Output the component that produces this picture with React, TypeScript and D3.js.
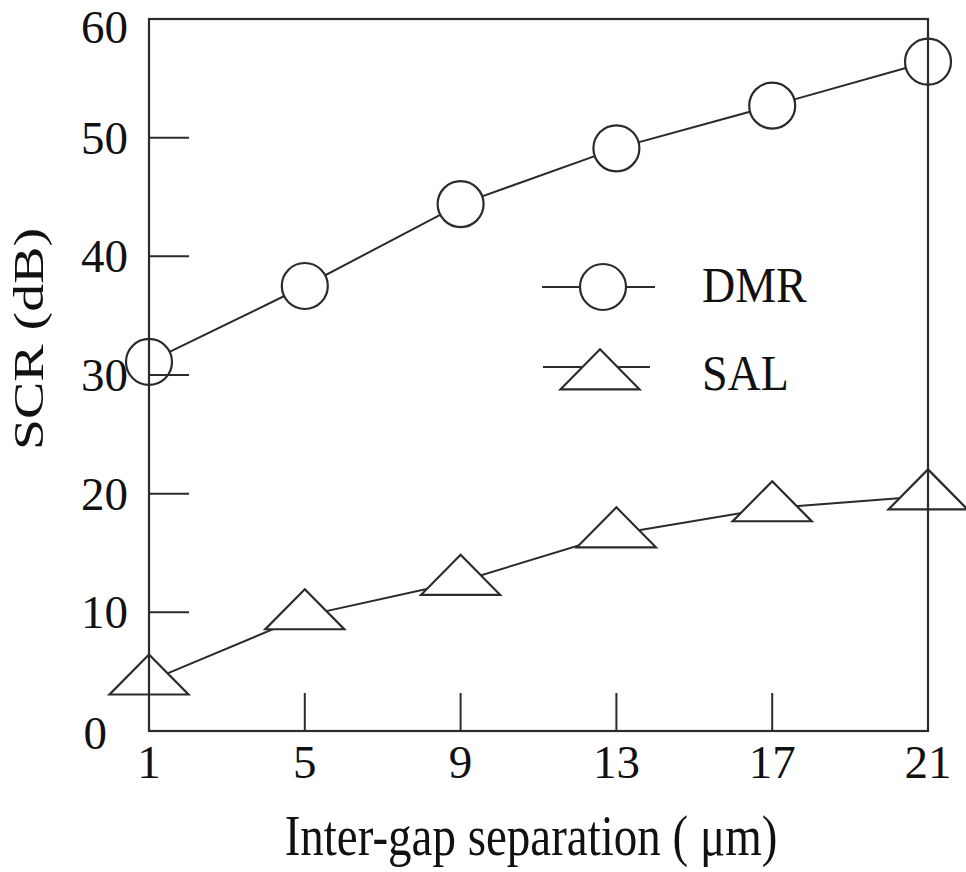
import React from "react";
import * as d3 from "d3";

const xValues = [1, 5, 9, 13, 17, 21];
const dmrValues = [31.1, 37.5, 44.4, 49.1, 52.7, 56.4];
const salValues = [4.2, 9.7, 12.6, 16.6, 18.8, 19.8];
const yTicks = [0, 10, 20, 30, 40, 50, 60];
const xTicks = [1, 5, 9, 13, 17, 21];
const seriesNames = ["DMR", "SAL"];
const xLabel = "Inter-gap separation ( \u03bcm)";
const yLabel = "SCR (dB)";

const W = 966;
const H = 872;
const L = 149, R = 928, T = 19, B = 731;
const INK = "#2b2b2b";
const FONT = "'Liberation Serif', 'DejaVu Serif', serif";
const CR = 23; // circle radius
const TH = 40; // triangle height
const THW = 39.5; // triangle half width

function triPath(cx: number, cy: number) {
  const top = cy - (TH * 2) / 3;
  const bot = cy + TH / 3;
  return `M${cx},${top}L${cx + THW},${bot}L${cx - THW},${bot}Z`;
}

export default function App() {
  const x = d3.scaleLinear().domain([1, 21]).range([L, R]);
  const y = d3.scaleLinear().domain([0, 60]).range([B, T]);
  const line = d3
    .line<[number, number]>()
    .x((d) => x(d[0]))
    .y((d) => y(d[1]));
  const dmr: [number, number][] = xValues.map((v, i) => [v, dmrValues[i]]);
  const sal: [number, number][] = xValues.map((v, i) => [v, salValues[i]]);

  // legend geometry
  const legDmrY = 287, legSalY = 367, legCx = 600, legTriCy = 376;

  return (
    <svg
      width={W}
      height={H}
      style={{ position: "absolute", left: 0, top: 0, background: "#fff" }}
      fontFamily={FONT}
    >
      <rect x={0} y={0} width={W} height={H} fill="#fff" />
      <defs>
        <mask id="markerMask" maskUnits="userSpaceOnUse" x={0} y={0} width={W} height={H}>
          <rect x={0} y={0} width={W} height={H} fill="#fff" />
          {dmr.map((d, i) => (
            <circle key={"mc" + i} cx={x(d[0])} cy={y(d[1])} r={CR} fill="#000" />
          ))}
          {sal.map((d, i) => (
            <path key={"mt" + i} d={triPath(x(d[0]), y(d[1]))} fill="#000" />
          ))}
          <circle cx={legCx + 3} cy={legDmrY} r={CR} fill="#000" />
          <path d={triPath(legCx, legTriCy)} fill="#000" />
        </mask>
      </defs>

      {/* frame */}
      <rect x={L} y={T} width={R - L} height={B - T} fill="none" stroke={INK} strokeWidth={2.2} />
      {/* y ticks */}
      {yTicks.slice(1, -1).map((t) => (
        <line key={"yt" + t} x1={L} x2={L + 40} y1={y(t)} y2={y(t)} stroke={INK} strokeWidth={2} />
      ))}
      {/* x ticks */}
      {xTicks.slice(1, -1).map((t) => (
        <line key={"xt" + t} x1={x(t)} x2={x(t)} y1={B} y2={B - 38} stroke={INK} strokeWidth={2} />
      ))}
      {/* y tick labels */}
      {yTicks.map((t) => {
        const px = t === 0 ? 107 : 128;
        const py = t === 60 ? y(t) + 8 : t === 0 ? y(t) + 2 : y(t);
        return (
          <text
            key={"yl" + t}
            x={px}
            y={py + 16}
            textAnchor="end"
            fontSize={47}
            fill="#111"
          >
            {t}
          </text>
        );
      })}
      {/* x tick labels */}
      {xTicks.map((t) => (
        <text
          key={"xl" + t}
          x={x(t)}
          y={778}
          textAnchor="middle"
          fontSize={47}
          fill="#111"
        >
          {t}
        </text>
      ))}
      {/* axis titles */}
      <text
        transform={`translate(531,855) scale(1,1.2)`}
        textAnchor="middle"
        fontSize={47}
        fill="#111"
      >
        {xLabel}
      </text>
      <text
        transform={`translate(43,339) rotate(-90) scale(1.3,1)`}
        textAnchor="middle"
        fontSize={43}
        fill="#111"
      >
        {yLabel}
      </text>

      {/* data lines */}
      <g mask="url(#markerMask)">
        <path d={line(dmr) || ""} fill="none" stroke={INK} strokeWidth={2} />
        <path d={line(sal) || ""} fill="none" stroke={INK} strokeWidth={2} />
        <line x1={542} x2={655} y1={legDmrY} y2={legDmrY} stroke={INK} strokeWidth={2} />
        <line x1={543} x2={650} y1={legSalY} y2={legSalY} stroke={INK} strokeWidth={2} />
      </g>
      {/* markers */}
      {dmr.map((d, i) => (
        <circle key={"c" + i} cx={x(d[0])} cy={y(d[1])} r={CR} fill="none" stroke={INK} strokeWidth={2.2} />
      ))}
      {sal.map((d, i) => (
        <path key={"t" + i} d={triPath(x(d[0]), y(d[1]))} fill="none" stroke={INK} strokeWidth={2.2} />
      ))}
      {/* legend */}
      <circle cx={legCx + 3} cy={legDmrY} r={CR} fill="none" stroke={INK} strokeWidth={2.2} />
      <path d={triPath(legCx, legTriCy)} fill="none" stroke={INK} strokeWidth={2.2} />
      <text transform={`translate(702,302) scale(1,1.08)`} fontSize={46} fill="#111">
        {seriesNames[0]}
      </text>
      <text transform={`translate(702,390) scale(1,1.08)`} fontSize={46} fill="#111">
        {seriesNames[1]}
      </text>
    </svg>
  );
}
